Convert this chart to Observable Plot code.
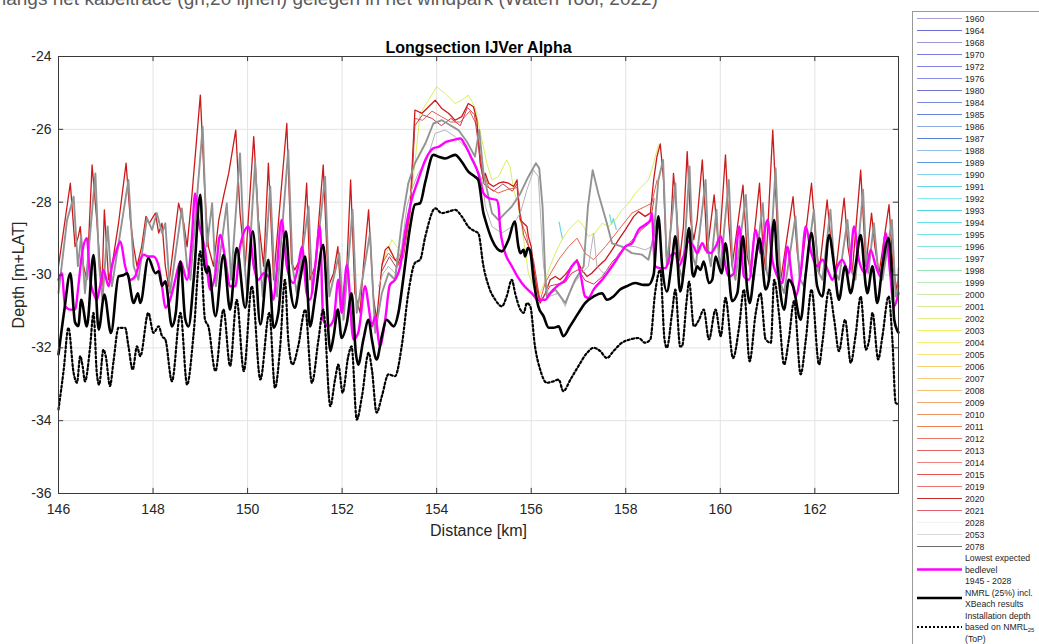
<!DOCTYPE html>
<html><head><meta charset="utf-8">
<script src="https://cdn.jsdelivr.net/npm/d3@7"></script>
<script src="https://cdn.jsdelivr.net/npm/@observablehq/plot@0.6"></script>
<style>
html,body{margin:0;padding:0;background:#fff;overflow:hidden;width:1039px;height:644px;position:relative;}
#top{position:absolute;left:2px;top:-11px;font:19px "Liberation Sans",Arial,sans-serif;color:#5a5a5a;white-space:nowrap;line-height:19px;}
#chart{position:absolute;left:0;top:0;}
#legend{position:absolute;left:912px;top:11px;}
</style></head><body>
<div id="top">langs het kabeltracé (gh;20 lijnen) gelegen in het windpark (Waten Tool, 2022)</div>
<div id="chart"></div>
<div id="legend"></div>
<script>
const xTicks = [146,148,150,152,154,156,158,160,162];
const yTicks = [-36,-34,-32,-30,-28,-26,-24];
const xDomain = [146, 163.77];
const yDomain = [-36, -24];

// NMRL (25%) incl. XBeach results  [km, m+LAT]
const nmrl = [[146.00,-32.18],[146.12,-31.0],[146.25,-29.95],[146.35,-31.3],[146.42,-31.4],[146.48,-30.68],[146.60,-31.41],[146.74,-29.45],[146.85,-31.5],[146.97,-30.54],[147.11,-31.59],[147.27,-30.04],[147.38,-30.0],[147.45,-29.95],[147.59,-30.77],[147.68,-30.5],[147.73,-30.77],[147.90,-29.54],[148.05,-29.95],[148.12,-29.9],[148.19,-30.3],[148.26,-30.17],[148.40,-31.41],[148.48,-31.05],[148.58,-29.63],[148.68,-31.2],[148.75,-31.41],[148.86,-30.13],[149.00,-27.8],[149.07,-29.58],[149.14,-29.95],[149.17,-29.77],[149.32,-31.13],[149.49,-29.45],[149.63,-30.95],[149.77,-29.26],[149.95,-30.9],[150.11,-28.8],[150.27,-31.36],[150.44,-29.58],[150.55,-31.45],[150.65,-31.04],[150.81,-28.8],[150.90,-30.31],[151.00,-30.9],[151.11,-30.13],[151.22,-29.49],[151.32,-31.41],[151.43,-30.59],[151.60,-29.17],[151.75,-32.09],[151.82,-31.68],[151.91,-30.95],[151.99,-31.73],[152.10,-31.32],[152.20,-30.5],[152.29,-32.14],[152.34,-32.46],[152.45,-31.77],[152.56,-31.23],[152.63,-31.77],[152.73,-32.32],[152.84,-31.68],[152.94,-31.23],[153.09,-31.41],[153.19,-31.04],[153.30,-30.04],[153.44,-28.67],[153.54,-28.07],[153.65,-28.03],[153.76,-27.44],[153.93,-26.7],[154.04,-26.75],[154.18,-26.8],[154.39,-26.7],[154.53,-26.89],[154.67,-27.16],[154.81,-27.3],[154.88,-27.39],[154.99,-28.3],[155.03,-28.49],[155.17,-29.03],[155.38,-29.35],[155.52,-29.03],[155.65,-28.53],[155.73,-29.22],[155.77,-29.4],[155.84,-29.31],[155.87,-29.49],[155.93,-29.26],[155.98,-29.35],[156.05,-30.13],[156.15,-30.86],[156.26,-31.13],[156.37,-31.45],[156.47,-31.45],[156.58,-31.41],[156.68,-31.68],[156.82,-31.41],[157.00,-31.04],[157.14,-30.77],[157.32,-30.59],[157.50,-30.5],[157.60,-30.68],[157.74,-30.59],[157.88,-30.4],[158.02,-30.31],[158.20,-30.22],[158.38,-30.27],[158.48,-30.27],[158.59,-29.99],[158.69,-28.39],[158.77,-29.76],[158.87,-30.45],[158.98,-29.58],[159.05,-28.94],[159.15,-30.45],[159.26,-29.54],[159.34,-28.71],[159.41,-29.95],[159.44,-30.04],[159.51,-29.76],[159.58,-29.86],[159.65,-29.63],[159.76,-30.22],[159.83,-30.13],[159.90,-29.49],[159.97,-29.76],[160.03,-29.95],[160.11,-29.13],[160.25,-30.72],[160.36,-30.5],[160.48,-28.94],[160.57,-30.4],[160.62,-30.77],[160.73,-29.76],[160.83,-28.99],[160.96,-30.4],[161.03,-30.13],[161.14,-28.49],[161.21,-29.76],[161.24,-30.13],[161.35,-30.95],[161.45,-30.13],[161.54,-30.31],[161.70,-31.23],[161.81,-29.95],[161.93,-28.85],[162.05,-30.31],[162.16,-30.59],[162.30,-28.9],[162.41,-29.76],[162.51,-30.68],[162.64,-29.76],[162.76,-30.5],[162.86,-29.76],[162.97,-28.9],[163.08,-30.31],[163.11,-30.5],[163.22,-29.76],[163.32,-30.77],[163.43,-29.76],[163.56,-28.99],[163.63,-29.95],[163.68,-31.23],[163.75,-31.54],[163.77,-31.58]];

// Installation depth based on NMRL25 (ToP)
const installDepth = [[146.00,-33.69],[146.11,-32.6],[146.21,-31.45],[146.32,-32.69],[146.39,-32.96],[146.46,-32.23],[146.51,-32.5],[146.56,-32.92],[146.67,-31.96],[146.74,-31.04],[146.81,-32.69],[146.86,-33.01],[146.95,-32.05],[147.0,-32.23],[147.09,-33.05],[147.16,-32.41],[147.27,-31.45],[147.41,-31.45],[147.48,-31.96],[147.57,-32.6],[147.66,-31.96],[147.73,-32.23],[147.9,-31.04],[148.01,-31.59],[148.12,-31.41],[148.19,-31.68],[148.26,-31.77],[148.4,-32.92],[148.58,-31.04],[148.72,-33.01],[148.86,-31.59],[149.0,-29.35],[149.1,-31.23],[149.17,-31.41],[149.32,-32.64],[149.49,-30.95],[149.63,-32.5],[149.77,-30.68],[149.92,-32.64],[150.09,-30.31],[150.27,-32.87],[150.46,-31.04],[150.58,-33.1],[150.69,-31.96],[150.79,-30.13],[150.86,-31.77],[150.95,-32.46],[151.07,-31.96],[151.22,-30.95],[151.36,-32.96],[151.5,-31.77],[151.6,-30.95],[151.75,-33.6],[151.85,-32.87],[151.92,-32.46],[152.01,-33.23],[152.13,-32.23],[152.2,-31.96],[152.31,-33.97],[152.42,-33.33],[152.56,-32.14],[152.63,-32.6],[152.73,-33.78],[152.84,-33.33],[152.98,-32.73],[153.12,-32.78],[153.26,-31.96],[153.4,-30.5],[153.54,-29.67],[153.65,-29.58],[153.76,-28.94],[153.97,-28.17],[154.11,-28.3],[154.25,-28.26],[154.39,-28.21],[154.53,-28.39],[154.67,-28.67],[154.81,-28.8],[154.88,-28.85],[154.99,-29.76],[155.1,-30.31],[155.24,-30.68],[155.38,-30.86],[155.48,-30.59],[155.59,-30.13],[155.66,-30.5],[155.77,-30.95],[155.84,-31.04],[155.91,-30.77],[155.98,-30.86],[156.08,-31.96],[156.19,-32.6],[156.33,-32.96],[156.47,-32.92],[156.58,-32.87],[156.68,-33.19],[156.83,-32.87],[157.0,-32.5],[157.18,-32.14],[157.32,-32.0],[157.46,-32.09],[157.6,-32.28],[157.74,-32.09],[157.92,-31.86],[158.09,-31.77],[158.27,-31.73],[158.41,-31.86],[158.52,-31.77],[158.62,-30.5],[158.73,-29.86],[158.82,-31.77],[158.87,-32.0],[158.98,-31.04],[159.05,-30.4],[159.15,-31.96],[159.19,-31.96],[159.29,-30.68],[159.34,-30.18],[159.44,-31.41],[159.55,-31.23],[159.65,-30.95],[159.76,-31.77],[159.9,-30.95],[160.01,-31.68],[160.11,-30.63],[160.27,-32.28],[160.4,-31.41],[160.5,-30.4],[160.62,-32.37],[160.75,-31.04],[160.85,-30.5],[160.96,-31.77],[161.07,-31.86],[161.14,-30.13],[161.24,-31.04],[161.35,-32.46],[161.45,-31.77],[161.56,-30.72],[161.7,-32.73],[161.81,-31.77],[161.93,-30.4],[162.09,-32.46],[162.16,-31.86],[162.3,-30.4],[162.41,-31.23],[162.51,-32.09],[162.64,-31.23],[162.76,-32.41],[162.86,-31.68],[162.97,-30.59],[163.08,-32.05],[163.15,-31.77],[163.22,-31.04],[163.34,-32.32],[163.43,-31.68],[163.56,-30.59],[163.64,-31.77],[163.71,-33.51],[163.77,-33.55]];

// Lowest expected bedlevel 1945 - 2028
const lowestBed = [[146.0,-30.13],[146.07,-29.95],[146.14,-30.86],[146.25,-30.95],[146.35,-30.95],[146.42,-30.31],[146.49,-29.49],[146.6,-28.99],[146.67,-30.13],[146.74,-30.5],[146.81,-30.68],[146.88,-30.31],[146.95,-29.86],[147.06,-30.31],[147.13,-29.76],[147.23,-29.31],[147.31,-29.08],[147.41,-29.76],[147.52,-30.13],[147.62,-30.04],[147.73,-29.58],[147.8,-29.44],[147.89,-29.49],[148.01,-29.49],[148.12,-29.76],[148.2,-30.4],[148.26,-30.9],[148.36,-30.68],[148.47,-30.13],[148.58,-29.63],[148.72,-30.13],[148.82,-29.03],[148.89,-27.76],[148.96,-28.49],[149.1,-29.31],[149.21,-30.4],[149.32,-29.95],[149.42,-28.9],[149.53,-29.58],[149.63,-30.31],[149.74,-30.31],[149.84,-29.22],[150.02,-28.67],[150.13,-29.76],[150.23,-30.13],[150.34,-29.95],[150.44,-30.04],[150.55,-30.68],[150.6,-30.13],[150.72,-28.49],[150.83,-29.76],[150.97,-30.22],[151.07,-29.76],[151.15,-29.22],[151.25,-30.5],[151.32,-30.68],[151.43,-29.76],[151.53,-28.67],[151.6,-31.23],[151.71,-31.41],[151.82,-31.23],[151.92,-30.13],[151.99,-31.04],[152.1,-29.72],[152.24,-31.77],[152.34,-31.59],[152.49,-30.31],[152.56,-30.86],[152.63,-31.41],[152.7,-31.13],[152.8,-31.96],[152.91,-31.23],[153.01,-30.27],[153.12,-30.13],[153.23,-29.76],[153.33,-28.85],[153.47,-27.94],[153.61,-27.39],[153.76,-26.84],[153.93,-26.52],[154.04,-26.48],[154.21,-26.34],[154.36,-26.29],[154.5,-26.25],[154.6,-26.43],[154.74,-26.8],[154.88,-27.21],[154.99,-27.76],[155.1,-27.89],[155.27,-27.94],[155.31,-28.12],[155.34,-28.67],[155.41,-29.22],[155.59,-29.76],[155.8,-30.22],[156.01,-30.5],[156.15,-30.68],[156.3,-30.68],[156.4,-30.5],[156.58,-30.27],[156.72,-30.13],[156.86,-29.76],[156.97,-29.63],[157.04,-29.95],[157.14,-30.59],[157.21,-30.63],[157.32,-30.4],[157.5,-30.13],[157.71,-29.76],[157.85,-29.49],[157.99,-29.22],[158.13,-29.13],[158.27,-28.76],[158.41,-28.62],[158.52,-28.49],[158.55,-28.3],[158.62,-29.76],[158.73,-29.81],[158.84,-29.81],[158.94,-29.49],[159.05,-29.4],[159.12,-29.76],[159.22,-29.49],[159.33,-29.08],[159.44,-29.22],[159.51,-29.4],[159.62,-29.13],[159.69,-29.31],[159.8,-29.4],[159.9,-29.22],[160.01,-28.94],[160.11,-29.76],[160.18,-30.04],[160.29,-29.95],[160.4,-28.67],[160.5,-30.04],[160.61,-30.13],[160.75,-28.76],[160.85,-29.4],[161.0,-28.49],[161.1,-29.58],[161.21,-30.04],[161.31,-30.22],[161.42,-29.22],[161.52,-30.13],[161.59,-30.59],[161.7,-29.95],[161.81,-28.67],[161.91,-29.31],[162.05,-29.76],[162.16,-29.58],[162.3,-29.95],[162.37,-30.13],[162.48,-29.76],[162.58,-29.58],[162.72,-29.95],[162.83,-28.67],[162.93,-29.58],[163.07,-29.95],[163.18,-29.31],[163.29,-29.76],[163.39,-30.04],[163.5,-28.85],[163.6,-30.04],[163.67,-30.86],[163.77,-30.5]];

// survey / prediction lines
const s2020 = [[146.0,-29.76],[146.25,-27.48],[146.35,-29.22],[146.42,-28.94],[146.46,-28.67],[146.53,-29.76],[146.6,-30.13],[146.71,-26.98],[146.81,-28.49],[146.88,-29.76],[146.92,-30.31],[146.97,-28.21],[147.06,-30.13],[147.13,-29.76],[147.27,-28.58],[147.43,-26.93],[147.52,-28.49],[147.59,-29.22],[147.66,-29.76],[147.76,-29.22],[147.85,-28.39],[147.92,-28.58],[148.05,-28.3],[148.12,-28.85],[148.19,-28.58],[148.26,-29.76],[148.33,-30.31],[148.43,-29.22],[148.54,-28.03],[148.65,-28.58],[148.72,-29.22],[148.82,-27.85],[149.0,-25.06],[149.1,-27.85],[149.17,-29.22],[149.28,-29.76],[149.39,-28.49],[149.49,-27.85],[149.6,-27.21],[149.75,-26.02],[149.84,-28.3],[149.95,-29.76],[150.13,-26.2],[150.23,-28.49],[150.34,-29.76],[150.44,-26.93],[150.55,-30.13],[150.83,-25.84],[150.93,-29.67],[151.0,-29.86],[151.07,-29.67],[151.15,-29.4],[151.25,-27.48],[151.32,-30.13],[151.43,-29.76],[151.6,-26.98],[151.71,-30.31],[151.82,-29.95],[151.91,-29.22],[151.99,-30.86],[152.1,-29.76],[152.18,-27.39],[152.27,-30.5],[152.38,-31.04],[152.45,-29.76],[152.56,-28.21],[152.66,-30.59],[152.73,-31.23],[152.84,-29.76],[152.91,-29.31],[152.98,-29.22],[153.05,-29.4],[153.12,-29.58],[153.19,-29.67],[153.26,-29.4],[153.33,-29.03],[153.44,-28.12],[153.54,-25.47],[153.69,-25.56],[153.83,-25.38],[153.97,-25.2],[154.11,-25.43],[154.25,-25.56],[154.39,-25.75],[154.53,-25.65],[154.67,-25.29],[154.78,-25.38],[154.85,-25.75],[154.92,-26.93],[154.99,-27.39],[155.03,-27.21],[155.1,-27.48],[155.2,-27.57],[155.31,-27.48],[155.41,-27.44],[155.52,-27.48],[155.63,-27.57],[155.7,-27.39],[155.73,-27.94],[155.77,-28.49],[155.84,-28.58],[155.91,-28.67],[155.94,-28.94],[156.0,-29.22],[156.05,-29.76],[156.12,-30.4],[156.19,-30.77],[156.3,-30.5],[156.4,-30.13],[156.51,-30.04],[156.61,-30.13],[156.72,-29.99],[156.86,-29.76],[156.97,-29.58],[157.07,-29.86],[157.18,-30.04],[157.28,-29.95],[157.42,-29.76],[157.57,-29.58],[157.71,-29.31],[157.85,-29.03],[157.99,-28.76],[158.17,-28.39],[158.27,-28.26],[158.41,-28.39],[158.52,-28.3],[158.59,-27.39],[158.66,-26.75],[158.73,-26.4],[158.8,-27.39],[158.86,-29.5],[158.91,-29.7],[159.01,-27.21],[159.08,-28.3],[159.14,-29.6],[159.22,-28.67],[159.3,-26.61],[159.37,-28.49],[159.44,-29.03],[159.51,-28.49],[159.62,-26.84],[159.69,-28.49],[159.72,-29.4],[159.87,-27.8],[159.94,-28.85],[159.97,-29.4],[160.11,-26.7],[160.18,-28.58],[160.25,-29.76],[160.48,-27.53],[160.57,-29.49],[160.64,-29.86],[160.83,-27.48],[160.9,-29.22],[160.96,-29.86],[161.11,-26.02],[161.21,-28.76],[161.28,-30.13],[161.54,-27.85],[161.63,-29.4],[161.7,-30.04],[161.93,-27.48],[162.02,-29.03],[162.09,-29.95],[162.26,-27.94],[162.35,-29.22],[162.44,-29.95],[162.62,-27.89],[162.7,-29.22],[162.79,-29.95],[162.97,-27.12],[163.04,-28.76],[163.08,-29.76],[163.2,-28.3],[163.27,-29.22],[163.36,-29.95],[163.57,-28.07],[163.65,-29.76],[163.75,-30.5],[163.77,-29.8]];

const s2078 = [[146.0,-30.5],[146.18,-28.5],[146.32,-27.85],[146.41,-29.76],[146.48,-28.94],[146.56,-30.5],[146.78,-27.21],[146.86,-29.76],[146.93,-30.68],[147.04,-28.67],[147.13,-30.31],[147.48,-27.39],[147.59,-29.76],[147.69,-30.13],[147.87,-28.44],[147.98,-28.76],[148.08,-28.3],[148.19,-28.85],[148.26,-28.58],[148.36,-30.5],[148.61,-28.17],[148.72,-29.76],[148.79,-30.13],[149.05,-25.93],[149.14,-29.22],[149.25,-28.03],[149.33,-30.31],[149.56,-28.03],[149.65,-30.13],[149.84,-26.66],[149.94,-29.76],[149.99,-30.5],[150.16,-26.89],[150.27,-29.76],[150.32,-30.59],[150.48,-27.57],[150.57,-30.13],[150.62,-30.59],[150.86,-26.57],[150.95,-29.76],[151.04,-30.5],[151.29,-28.12],[151.37,-30.5],[151.64,-27.3],[151.73,-30.59],[151.94,-29.4],[152.03,-31.23],[152.22,-28.21],[152.31,-31.04],[152.59,-28.85],[152.7,-31.59],[152.84,-30.5],[152.98,-29.95],[153.12,-30.13],[153.26,-28.58],[153.4,-27.48],[153.54,-26.93],[153.76,-26.39],[153.93,-25.84],[154.11,-25.75],[154.28,-25.88],[154.46,-26.02],[154.64,-26.34],[154.81,-26.75],[154.9,-26.02],[154.99,-27.21],[155.17,-28.3],[155.31,-28.49],[155.45,-28.3],[155.59,-28.12],[155.77,-27.76],[155.94,-27.3],[156.1,-26.93],[156.17,-27.07],[156.24,-28.12],[156.3,-30.13],[156.33,-30.59],[156.51,-30.4],[156.72,-30.77],[156.93,-30.13],[157.11,-29.76],[157.2,-28.12],[157.3,-27.12],[157.42,-27.76],[157.6,-28.58],[157.71,-29.13],[157.92,-29.22],[158.13,-29.4],[158.34,-29.44],[158.48,-29.58],[158.59,-28.94],[158.69,-27.39],[158.79,-26.84],[158.87,-29.76],[159.05,-27.48],[159.12,-29.76],[159.2,-30.13],[159.35,-27.02],[159.42,-29.5],[159.48,-29.76],[159.69,-27.39],[159.75,-29.4],[159.8,-29.76],[159.92,-28.21],[159.97,-29.5],[160.01,-29.76],[160.18,-27.39],[160.26,-29.8],[160.32,-30.13],[160.54,-27.8],[160.63,-29.9],[160.71,-30.13],[160.9,-28.03],[160.98,-29.9],[161.03,-30.13],[161.17,-27.07],[161.27,-30.2],[161.35,-30.5],[161.59,-28.39],[161.68,-30.1],[161.77,-30.31],[161.98,-28.21],[162.07,-29.9],[162.16,-30.13],[162.33,-28.21],[162.42,-29.9],[162.51,-30.13],[162.69,-28.49],[162.78,-29.9],[162.86,-30.13],[163.02,-27.66],[163.09,-29.7],[163.13,-29.95],[163.25,-28.58],[163.34,-29.9],[163.43,-30.13],[163.63,-28.49],[163.71,-30.59],[163.77,-30.3]];

const s2053 = [[152.77,-30.31],[152.87,-29.95],[152.98,-29.76],[153.12,-29.95],[153.26,-29.22],[153.37,-28.12],[153.47,-27.66],[153.61,-27.21],[153.79,-26.84],[153.97,-26.11],[154.18,-26.02],[154.39,-26.2],[154.6,-26.48],[154.78,-26.84],[154.96,-27.39],[155.03,-28.12],[155.17,-28.67],[155.38,-28.85],[155.59,-28.67],[155.77,-28.3],[155.91,-27.66],[156.05,-27.12],[156.15,-27.3],[156.26,-29.76],[156.37,-30.59],[156.58,-30.5],[156.72,-30.86],[156.86,-30.31],[157.07,-29.95],[157.21,-29.76],[157.32,-28.85],[157.39,-29.76],[157.53,-29.95],[157.71,-29.76],[157.85,-29.4],[158.02,-29.22],[158.2,-29.22],[158.41,-29.31],[158.55,-29.22],[158.66,-28.49]];

const s2003 = [[152.84,-29.76],[152.94,-29.4],[153.05,-29.03],[153.16,-29.22],[153.26,-29.4],[153.4,-28.49],[153.54,-26.93],[153.65,-25.56],[153.83,-25.2],[154.0,-24.83],[154.18,-25.02],[154.39,-25.29],[154.53,-25.2],[154.67,-25.06],[154.81,-25.38],[154.96,-26.3],[155.06,-26.93],[155.17,-27.39],[155.31,-27.3],[155.41,-27.02],[155.48,-26.84],[155.55,-27.02],[155.63,-27.66],[155.73,-28.12],[155.84,-29.03],[155.94,-29.95],[156.05,-30.31],[156.19,-30.5],[156.3,-30.13],[156.4,-29.76],[156.51,-29.4],[156.65,-29.03],[156.79,-28.76],[156.93,-28.58],[157.0,-28.49],[157.11,-28.67],[157.21,-28.94],[157.35,-28.85],[157.5,-28.58],[157.64,-28.67],[157.78,-28.49],[157.92,-28.21],[158.06,-28.03],[158.2,-27.76],[158.34,-27.57],[158.48,-27.39],[158.59,-26.93],[158.69,-26.43]];

const s2013 = [[152.84,-29.7],[152.98,-29.4],[153.12,-29.6],[153.3,-29.3],[153.44,-28.2],[153.54,-25.7],[153.7,-25.75],[153.9,-25.5],[154.1,-25.65],[154.3,-25.8],[154.5,-25.8],[154.7,-25.5],[154.85,-25.9],[154.95,-27.0],[155.1,-27.6],[155.3,-27.75],[155.5,-27.65],[155.7,-27.6],[155.77,-28.5],[155.9,-28.9],[156.05,-29.9],[156.19,-30.7],[156.3,-30.2],[156.58,-29.58],[156.79,-29.22],[156.97,-28.99],[157.14,-29.4],[157.32,-29.58],[157.57,-29.22],[157.85,-28.76],[158.13,-28.3],[158.41,-28.12],[158.55,-28.03],[158.66,-27.4]];

const s2021 = [[152.84,-29.9],[153.0,-29.5],[153.15,-29.8],[153.3,-29.5],[153.44,-28.3],[153.54,-25.9],[153.7,-25.6],[153.9,-25.7],[154.1,-25.9],[154.3,-25.7],[154.5,-25.9],[154.65,-25.4],[154.8,-25.6],[154.9,-26.6],[155.0,-27.5],[155.2,-27.7],[155.4,-27.5],[155.6,-27.7],[155.7,-27.5],[155.77,-28.3],[155.84,-28.9],[155.94,-29.2],[156.05,-29.6],[156.19,-30.75],[156.4,-30.3],[156.72,-30.2],[156.86,-29.95],[157.0,-29.85],[157.14,-30.15],[157.32,-30.25],[157.5,-30.05],[157.71,-29.65],[157.92,-29.35],[158.13,-29.05],[158.34,-28.75],[158.52,-28.55],[158.6,-27.9]];

const s1991 = [[156.59,-28.55],[156.66,-29.0],[156.7,NaN],[157.66,-28.35],[157.7,-28.6],[157.74,-28.45],[157.8,-28.75]];

const legendYears = ["1960","1964","1968","1970","1972","1976","1980","1984","1985","1986","1987","1988","1989","1990","1991","1992","1993","1994","1995","1996","1997","1998","1999","2000","2001","2002","2003","2004","2005","2006","2007","2008","2009","2010","2011","2012","2013","2014","2015","2019","2020","2021","2028","2053","2078"];
const legendColors = ["#a99ed8","#6b6bd6","#9c98d2","#7b7be0","#8282e6","#8a8ae8","#7272d2","#7c8ce2","#6682e0","#8eaae2","#5a82d8","#96bce8","#5c9ce0","#84d2f0","#62d8e8","#86eaf2","#52d8e2","#64e0ea","#74e2e2","#84e2da","#a4eae2","#96e2b4","#bce8bc","#cce8ac","#d4ea94","#e2f084","#f0f062","#f8f074","#f8e284","#f8d272","#f8ca7c","#f2c274","#f2aa74","#f09262","#f08252","#f07464","#e86262","#f08282","#e85454","#f07272","#cc2a2a","#e06272","#f2f2f2","#d8d8d8","#6e6e6e"];
const colorOf = y => legendColors[legendYears.indexOf(y)];

const yearSeries = [
  {year:"1991", data:s1991, w:1.2},
  {year:"2003", data:s2003, w:1, color:"#d9ef5c"},
  {year:"2013", data:s2013, w:1, color:"#e8604a"},
  {year:"2020", data:s2020, w:1.3, color:"#cc1a1a"},
  {year:"2021", data:s2021, w:1, color:"#c83c48"},
  {year:"2053", data:s2053, w:1, color:"#b4b4b4"},
  {year:"2078", data:s2078, w:1.9, color:"#939393"}
];

const fmt = d => String(d);
const chart = Plot.plot({
  width: 905, height: 545,
  marginLeft: 58, marginRight: 7, marginTop: 56, marginBottom: 52,
  style: {fontFamily: '"Liberation Sans", Arial, sans-serif', fontSize: "14px", color: "#262626", background: "transparent"},
  x: {domain: xDomain, label: null},
  y: {domain: yDomain, label: null},
  marks: [
    Plot.gridX(xTicks, {stroke: "#e3e3e3", strokeOpacity: 1}),
    Plot.gridY(yTicks, {stroke: "#e3e3e3", strokeOpacity: 1}),
    ...yearSeries.map(s => Plot.line(s.data, {x: d => d[0], y: d => d[1], stroke: s.color || colorOf(s.year), strokeWidth: s.w})),
    Plot.line(lowestBed, {x: d => d[0], y: d => d[1], stroke: "#ff00ff", strokeWidth: 2.4, curve: "monotone-x"}),
    Plot.line(nmrl, {x: d => d[0], y: d => d[1], stroke: "#000", strokeWidth: 2.6, curve: "monotone-x"}),
    Plot.line(installDepth, {x: d => d[0], y: d => d[1], stroke: "#000", strokeWidth: 2.2, strokeDasharray: "2,2.4", curve: "monotone-x"}),
    Plot.frame({stroke: "#3a3a3a"}),
    Plot.ruleX(xTicks, {x: d => d, y1: yDomain[0], y2: yDomain[0] + 0.14, stroke: "#3a3a3a"}),
    Plot.ruleX(xTicks, {x: d => d, y1: yDomain[1], y2: yDomain[1] - 0.14, stroke: "#3a3a3a"}),
    Plot.ruleY(yTicks, {y: d => d, x1: xDomain[0], x2: xDomain[0] + 0.11, stroke: "#3a3a3a"}),
    Plot.ruleY(yTicks, {y: d => d, x1: xDomain[1], x2: xDomain[1] - 0.11, stroke: "#3a3a3a"}),
    Plot.axisX({ticks: xTicks, tickSize: 0, tickPadding: 11, tickFormat: fmt, label: null, fontSize: 14}),
    Plot.axisY({ticks: yTicks, tickSize: 0, tickPadding: 7, tickFormat: fmt, label: null, fontSize: 14}),
    Plot.text(["Longsection IJVer Alpha"], {text: d => d, frameAnchor: "top", dy: -9, fontWeight: "bold", fontSize: 16, lineAnchor: "middle", fill: "#000"}),
    Plot.text(["Distance [km]"], {text: d => d, frameAnchor: "bottom", dy: 37, fontSize: 16, lineAnchor: "middle", fill: "#262626"}),
    Plot.text(["Depth [m+LAT]"], {text: d => d, frameAnchor: "left", dx: -40, rotate: -90, textAnchor: "middle", lineAnchor: "middle", fontSize: 16, fill: "#262626"})
  ]
});
document.getElementById("chart").appendChild(chart);

// legend
const lg = d3.select("#legend").append("svg").attr("width", 127).attr("height", 633)
  .style("font-family", '"Liberation Sans", Arial, sans-serif').style("font-size", "8.7px");
lg.append("rect").attr("x", 0.5).attr("y", 0.5).attr("width", 140).attr("height", 660)
  .attr("fill", "#fff").attr("stroke", "#9a9a9a");
legendYears.forEach((y, i) => {
  const cy = 7.5 + 12 * i;
  lg.append("line").attr("x1", 5).attr("x2", 50).attr("y1", cy).attr("y2", cy)
    .attr("stroke", legendColors[i]).attr("stroke-width", 1.2);
  lg.append("text").attr("x", 53).attr("y", cy).attr("dy", "0.35em").attr("fill", "#262626").text(y);
});
const special = [
  {lines: ["Lowest expected", "bedlevel", "1945 - 2028"], ys: [547, 558.5, 570], ly: 558.5, stroke: "#ff00ff", w: 2.4, dash: null},
  {lines: ["NMRL (25%) incl.", "XBeach results"], ys: [581.5, 593], ly: 587, stroke: "#000", w: 2.6, dash: null},
  {lines: ["Installation depth", "based on NMRL", "(ToP)"], ys: [604.5, 616, 627.5], ly: 616, stroke: "#000", w: 2, dash: "2,2"}
];
special.forEach(s => {
  lg.append("line").attr("x1", 5).attr("x2", 50).attr("y1", s.ly).attr("y2", s.ly)
    .attr("stroke", s.stroke).attr("stroke-width", s.w).attr("stroke-dasharray", s.dash);
  s.lines.forEach((t, j) => {
    const tx = lg.append("text").attr("x", 53).attr("y", s.ys[j]).attr("dy", "0.35em").attr("fill", "#262626").text(t);
    if (t === "based on NMRL") tx.append("tspan").attr("dy", "0.35em").attr("font-size", "6px").text("25");
  });
});
</script></body></html>
